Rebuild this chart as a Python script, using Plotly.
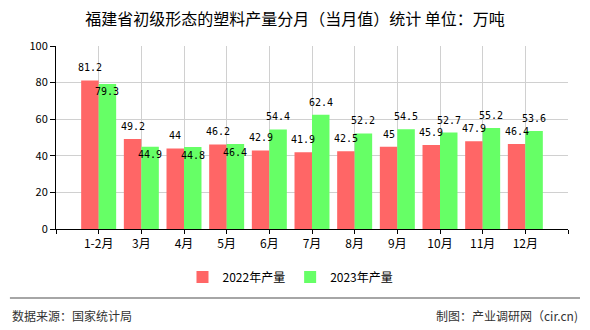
import plotly.graph_objects as go

categories = ["1-2月", "3月", "4月", "5月", "6月", "7月", "8月", "9月", "10月", "11月", "12月"]
values_2022 = [81.2, 49.2, 44, 46.2, 42.9, 41.9, 42.5, 45, 45.9, 47.9, 46.4]
values_2023 = [79.3, 44.9, 44.8, 46.4, 54.4, 62.4, 52.2, 54.5, 52.7, 55.2, 53.6]
series_names = ["2022年产量", "2023年产量"]
y_ticks = [0, 20, 40, 60, 80, 100]

x_pos = list(range(len(categories)))
tick_pos = [-1] + x_pos + [len(categories)]
tick_text = [""] + categories + [""]

BARGAP = 0.18
half = (1 - BARGAP) / 4  # offset of each bar centre from the category centre

label_font = dict(family="DejaVu Sans Mono, monospace", size=10, color="#000")

fig = go.Figure()
fig.add_trace(go.Bar(
    x=x_pos, y=values_2022, name=series_names[0],
    marker=dict(color="#ff6666", line=dict(width=0)),
))
fig.add_trace(go.Bar(
    x=x_pos, y=values_2023, name=series_names[1],
    marker=dict(color="#66ff66", line=dict(width=0)),
))

labels = []
for i, (a, b) in enumerate(zip(values_2022, values_2023)):
    labels.append(dict(x=i - half, y=a, text=f"{a:g}", yshift=12.5))
    # green labels that would collide with red labels sit just inside the bar top
    labels.append(dict(x=i + half, y=b, text=f"{b:g}",
                       yshift=-8 if abs(a - b) < 5 else 12.5))
annotations = [dict(xref="x", yref="y", showarrow=False, xanchor="center",
                    yanchor="middle", font=label_font, **d) for d in labels]

annotations += [
    dict(text="数据来源：国家统计局", xref="paper", yref="paper",
         x=-0.09, y=-0.475, xanchor="left", yanchor="middle", showarrow=False,
         font=dict(size=12, color="#333")),
    dict(text="制图：产业调研网（cir.cn)", xref="paper", yref="paper",
         x=1.0234, y=-0.475, xanchor="right", yanchor="middle", showarrow=False,
         font=dict(size=12, color="#333")),
]

fig.update_layout(
    width=590, height=330,
    margin=dict(l=56, r=22, t=46, b=101),
    paper_bgcolor="white", plot_bgcolor="white",
    barmode="group", bargap=BARGAP, bargroupgap=0,
    font=dict(family="Noto Sans CJK SC, sans-serif", size=12, color="#000"),
    title=dict(text="福建省初级形态的塑料产量分月（当月值）统计 单位：万吨",
               x=0.5, xanchor="center", y=1 - 19 / 330, yanchor="middle",
               font=dict(size=16, color="#000")),
    xaxis=dict(range=[-1, len(categories)], tickmode="array",
               tickvals=tick_pos, ticktext=tick_text,
               showgrid=True, gridcolor="#d0d0d0", gridwidth=1,
               showline=True, linecolor="#000", linewidth=1,
               ticks="outside", ticklen=4, tickcolor="#000",
               tickfont=dict(size=12, color="#000"), zeroline=False),
    yaxis=dict(range=[0, 100], tickvals=y_ticks,
               showgrid=True, gridcolor="#d0d0d0", gridwidth=1,
               showline=True, linecolor="#000", linewidth=1,
               ticks="outside", ticklen=5, tickcolor="#000",
               tickfont=dict(size=11, color="#000"), zeroline=False),
    legend=dict(orientation="h", x=0.458, xanchor="center", y=-0.262, yanchor="middle",
                font=dict(size=12, color="#000"), itemwidth=30,
                bgcolor="rgba(0,0,0,0)"),
    showlegend=True,
    shapes=[dict(type="line", xref="paper", yref="paper",
                 x0=-0.09, x1=1.0234, y0=-0.377, y1=-0.377,
                 line=dict(color="#888", width=1.5))],
    annotations=annotations,
)

fig.write_html("out.html")
